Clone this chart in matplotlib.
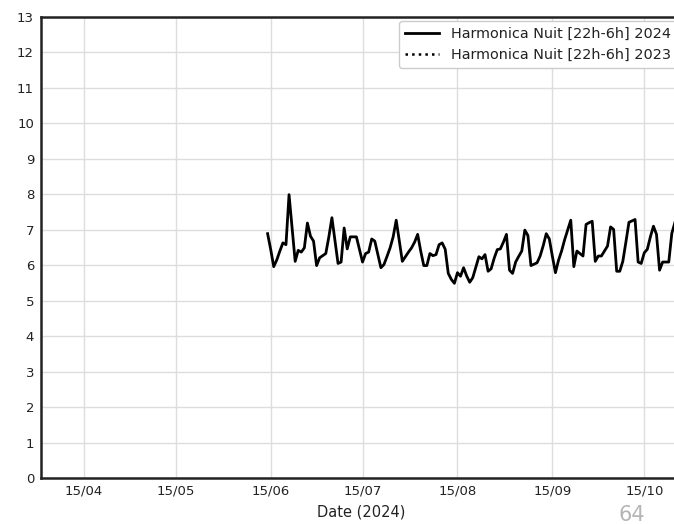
import matplotlib
matplotlib.use("Agg")
import matplotlib.pyplot as plt
import matplotlib.dates as mdates
import numpy as np
import pandas as pd

# nightly harmonica level, one value per day from 14/06/2024
start_2024 = "2024-06-14"
nuit_2024 = [6.89, 6.45, 5.96, 6.15, 6.40, 6.63, 6.58, 7.99, 7.05, 6.11,
             6.42, 6.37, 6.49, 7.19, 6.82, 6.68, 5.99, 6.21, 6.27, 6.33,
             6.80, 7.34, 6.70, 6.05, 6.09, 7.05, 6.46, 6.80, 6.80, 6.80,
             6.45, 6.09, 6.33, 6.37, 6.74, 6.68, 6.30, 5.93, 6.02, 6.25,
             6.49, 6.80, 7.27, 6.70, 6.11, 6.24, 6.37, 6.49, 6.65, 6.87,
             6.40, 5.99, 5.99, 6.33, 6.27, 6.30, 6.58, 6.63, 6.45, 5.77,
             5.60, 5.49, 5.79, 5.69, 5.93, 5.70, 5.52, 5.65, 5.95, 6.24,
             6.18, 6.30, 5.83, 5.90, 6.20, 6.44, 6.46, 6.65, 6.87, 5.86,
             5.77, 6.09, 6.25, 6.40, 6.99, 6.84, 5.99, 6.03, 6.07, 6.26,
             6.55, 6.89, 6.74, 6.25, 5.79, 6.14, 6.40, 6.72, 7.00, 7.27,
             5.96, 6.40, 6.33, 6.26, 7.15, 7.20, 7.24, 6.11, 6.26, 6.26,
             6.40, 6.54, 7.08, 7.01, 5.83, 5.83, 6.11, 6.65, 7.21, 7.25,
             7.29, 6.09, 6.05, 6.35, 6.45, 6.80, 7.10, 6.87, 5.86, 6.09,
             6.09, 6.09, 6.90, 7.20]
nuit_2023 = []  # no values shown for 2023

label_2024 = "Harmonica Nuit [22h-6h] 2024"
label_2023 = "Harmonica Nuit [22h-6h] 2023"
x_start, x_end = "2024-04-01", "2024-10-27"

dates_2024 = pd.date_range(start_2024, periods=len(nuit_2024), freq="D")

fig = plt.figure(figsize=(6.74, 5.24), dpi=100)
ax = fig.add_axes([41/674, 46/524, 640/674, 461/524])

ax.plot(dates_2024, nuit_2024, color="black", lw=2, label=label_2024)
ax.plot(pd.to_datetime([]), nuit_2023, color="black", ls=":", lw=1.8, label=label_2023)

ax.set_xlim(pd.Timestamp(x_start), pd.Timestamp(x_end))
ax.set_ylim(0, 13)
ax.set_yticks(np.arange(0, 14, 1))
ax.xaxis.set_major_locator(mdates.DayLocator(bymonthday=15))
ax.xaxis.set_major_formatter(mdates.DateFormatter("%d/%m"))

ax.grid(True, color="#dddddd", lw=1)
ax.set_axisbelow(True)
for s in ax.spines.values():
    s.set_color("#222222")
    s.set_linewidth(1.8)
ax.tick_params(length=0, labelsize=9.5, pad=5, colors="#222222")

ax.set_xlabel("Date (2024)", fontsize=10.5, color="#222222", labelpad=5)

leg = ax.legend(loc="upper right", fontsize=10.4, handlelength=2.4,
                framealpha=1, edgecolor="#cccccc", borderaxespad=0.3)
for t in leg.get_texts():
    t.set_color("#222222")

fig.text(0.918, 0.037, "64", fontsize=15, color="#b5b5b5", va="top", ha="left")

fig.savefig("out.png", dpi=100)
